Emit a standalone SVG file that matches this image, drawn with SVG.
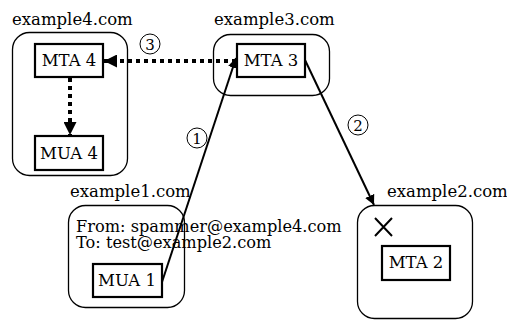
<svg xmlns="http://www.w3.org/2000/svg" width="507" height="320" viewBox="0 0 507 320">
<defs>
<style>
text{font-family:"DejaVu Serif","Liberation Serif",serif;font-size:16.5px;fill:#000}
.ft{font-size:16.2px}
.dom{fill:none;stroke:#000;stroke-width:1.3}
.box{fill:#fff;stroke:#000;stroke-width:2.2}
.num{font-size:15px;text-anchor:middle}
.circ{fill:#fff;stroke:#000;stroke-width:1}
.solid{fill:none;stroke:#000;stroke-width:2}
.dot{fill:none;stroke:#000;stroke-width:4;stroke-dasharray:4 4}
</style>
<marker id="ah" viewBox="0 0 10 10" refX="10" refY="5" markerWidth="10" markerHeight="10" markerUnits="userSpaceOnUse" orient="auto">
<path d="M0,0 L10,5 L0,10 z" fill="#000"/>
</marker>
<marker id="ahb" viewBox="0 0 10 10" refX="10" refY="5" markerWidth="13" markerHeight="13" markerUnits="userSpaceOnUse" orient="auto">
<path d="M0,0 L10,5 L0,10 z" fill="#000"/>
</marker>
</defs>
<g id="example4">
<text x="12" y="25">example4.com</text>
<rect class="dom" x="12.5" y="32.5" width="115" height="143" rx="17"/>
</g>
<g id="example3">
<text x="214" y="25">example3.com</text>
<rect class="dom" x="213.5" y="34.5" width="116" height="61" rx="17"/>
</g>
<g id="example1">
<text x="70" y="197">example1.com</text>
<rect class="dom" x="68.5" y="205.5" width="116" height="102" rx="17"/>
<text class="ft" x="76" y="232">From: spammer@example4.com</text>
<text class="ft" x="76" y="248">To: test@example2.com</text>
</g>
<g id="example2">
<text x="387" y="197">example2.com</text>
<rect class="dom" x="357.5" y="205.5" width="115" height="113" rx="17"/>
<path d="M375,218 L392,236 M392,218 L375,236" stroke="#000" stroke-width="2" fill="none"/>
</g>
<g id="mta4">
<rect class="box" x="35" y="44" width="68" height="33"/>
<text x="69" y="66" text-anchor="middle">MTA 4</text>
</g>
<g id="mua4">
<rect class="box" x="35" y="136" width="68" height="34"/>
<text x="69" y="159" text-anchor="middle">MUA 4</text>
</g>
<g id="mta3">
<rect class="box" x="237" y="44" width="68" height="33"/>
<text x="271" y="66" text-anchor="middle">MTA 3</text>
</g>
<g id="mua1">
<rect class="box" x="93" y="264" width="69" height="33"/>
<text x="127" y="286" text-anchor="middle">MUA 1</text>
</g>
<g id="mta2">
<rect class="box" x="382" y="246" width="68" height="34"/>
<text x="416" y="268" text-anchor="middle">MTA 2</text>
</g>
<g id="connectors">
<line class="solid" x1="162" y1="282" x2="236" y2="58" marker-end="url(#ah)"/>
<line class="solid" x1="305" y1="60" x2="374" y2="205" marker-end="url(#ah)"/>
<line class="dot" x1="236" y1="61" x2="104" y2="61" marker-end="url(#ahb)"/>
<line class="dot" x1="70" y1="78" x2="70" y2="135" marker-end="url(#ahb)"/>
<circle class="circ" cx="150" cy="44" r="10"/>
<text class="num" x="150" y="49.5">3</text>
<circle class="circ" cx="197" cy="138" r="10"/>
<text class="num" x="197" y="143.5">1</text>
<circle class="circ" cx="358" cy="125" r="10"/>
<text class="num" x="358" y="130.5">2</text>
</g>
</svg>
